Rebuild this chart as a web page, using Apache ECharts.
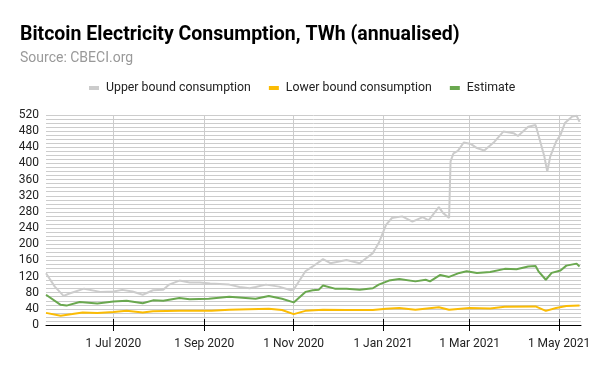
<!DOCTYPE html>
<html>
<head>
<meta charset="utf-8">
<script src="https://cdn.jsdelivr.net/npm/echarts@6/dist/echarts.min.js"></script>
<style>html,body{margin:0;padding:0;background:#fff}#c{width:600px;height:371px}</style>
</head>
<body>
<div id="c"></div>
<script>
const titleText = 'Bitcoin Electricity Consumption, TWh (annualised)';
const subtitleText = 'Source: CBECI.org';
const seriesNames = ['Upper bound consumption', 'Lower bound consumption', 'Estimate'];
const xTickDates = ['2020-07-01', '2020-09-01', '2020-11-01', '2021-01-01', '2021-03-01', '2021-05-01'];
const yTicks = [0, 40, 80, 120, 160, 200, 240, 280, 320, 360, 400, 440, 480, 520];

const upperDates = ['2020-05-16','2020-05-22','2020-05-28','2020-06-01','2020-06-11','2020-06-22','2020-07-01','2020-07-07','2020-07-14','2020-07-21','2020-07-28','2020-08-04','2020-08-08','2020-08-15','2020-08-22','2020-08-29','2020-09-05','2020-09-18','2020-09-25','2020-10-02','2020-10-06','2020-10-13','2020-10-22','2020-10-30','2020-11-01','2020-11-09','2020-11-14','2020-11-21','2020-11-26','2020-12-02','2020-12-07','2020-12-16','2020-12-25','2020-12-29','2021-01-03','2021-01-07','2021-01-14','2021-01-21','2021-01-28','2021-02-01','2021-02-08','2021-02-11','2021-02-15','2021-02-16','2021-02-18','2021-02-21','2021-02-25','2021-03-02','2021-03-06','2021-03-11','2021-03-18','2021-03-24','2021-03-31','2021-04-03','2021-04-10','2021-04-15','2021-04-16','2021-04-21','2021-04-23','2021-04-25','2021-04-29','2021-05-02','2021-05-05','2021-05-10','2021-05-13','2021-05-15'];
const upperValues = [128,95,72,78,90,82,83,87,83,75,86,87,100,110,105,105,103,100,94,91,94,100,95,86,88,133,145,163,153,157,161,153,178,203,248,265,269,256,267,259,292,277,265,405,425,431,452,448,438,432,454,479,475,468,491,495,483,417,380,417,454,471,500,516,518,503];

const lowerDates = ['2020-05-16','2020-05-26','2020-06-03','2020-06-10','2020-06-20','2020-07-01','2020-07-10','2020-07-21','2020-07-28','2020-08-15','2020-08-29','2020-09-06','2020-09-18','2020-10-15','2020-10-24','2020-11-01','2020-11-09','2020-11-21','2020-12-07','2020-12-25','2021-01-03','2021-01-12','2021-01-23','2021-02-08','2021-02-15','2021-03-01','2021-03-15','2021-03-25','2021-04-15','2021-04-22','2021-04-29','2021-05-06','2021-05-15'];
const lowerValues = [30,23,27,31,30,32,35,31,34,35,35,35,38,40,37,27,35,38,37,37,40,42,38,44,38,42,41,45,46,35,42,47,48];

const estimateDates = ['2020-05-16','2020-05-26','2020-05-30','2020-06-08','2020-06-20','2020-07-01','2020-07-10','2020-07-21','2020-07-28','2020-08-04','2020-08-15','2020-08-22','2020-09-04','2020-09-18','2020-10-06','2020-10-15','2020-10-24','2020-11-01','2020-11-09','2020-11-14','2020-11-18','2020-11-21','2020-11-29','2020-12-07','2020-12-16','2020-12-25','2020-12-29','2021-01-05','2021-01-12','2021-01-23','2021-01-30','2021-02-02','2021-02-09','2021-02-15','2021-02-22','2021-02-27','2021-03-06','2021-03-15','2021-03-25','2021-04-02','2021-04-10','2021-04-15','2021-04-17','2021-04-22','2021-04-26','2021-05-02','2021-05-06','2021-05-13','2021-05-15'];
const estimateValues = [75,50,48,57,53,58,60,54,61,60,67,64,65,70,65,72,65,56,82,86,87,98,90,90,87,91,100,110,114,108,112,108,124,119,129,133,129,131,139,138,145,146,133,112,129,135,147,152,145];

const xMin = '2020-05-16';
const xMax = '2021-05-16';

function ts(s) { const p = s.split('-').map(Number); return new Date(p[0], p[1] - 1, p[2]).getTime(); }
function pairs(d, v) { return d.map((x, i) => [ts(x), v[i]]); }
const monthNames = ['Jan','Feb','Mar','Apr','May','Jun','Jul','Aug','Sep','Oct','Nov','Dec'];
function fmtDate(v) { const d = new Date(v); return d.getDate() + ' ' + monthNames[d.getMonth()] + ' ' + d.getFullYear(); }

const chart = echarts.init(document.getElementById('c'), null, { renderer: 'canvas' });
const fontFamily = 'Roboto, sans-serif';
const tickVals = xTickDates.map(ts);
chart.setOption({
  animation: false,
  textStyle: { fontFamily: fontFamily },
  title: [
    { text: titleText, left: 15, top: 20, textStyle: { fontFamily: fontFamily, fontSize: 19.5, fontWeight: 'bold', color: '#000' } },
    { text: subtitleText, left: 15, top: 46, textStyle: { fontFamily: fontFamily, fontSize: 14, fontWeight: 'normal', color: '#999' } }
  ],
  legend: {
    left: 84, top: 77, itemWidth: 10, itemHeight: 4, itemGap: 18, icon: 'rect',
    textStyle: { fontFamily: fontFamily, fontSize: 12.3, color: '#222', padding: [0, 0, 0, 2] },
    data: seriesNames
  },
  grid: { left: 46, right: 19, top: 115, bottom: 46, containLabel: false },
  xAxis: [
    {
      type: 'value', min: ts(xMin), max: ts(xMax), scale: true,
      axisLine: { show: true, onZero: false, lineStyle: { color: '#000', width: 1 } },
      axisTick: { show: true, length: 6, lineStyle: { color: '#000' }, customValues: tickVals },
      axisLabel: { customValues: tickVals, formatter: fmtDate, fontSize: 12, color: '#222', margin: 13 },
      splitLine: { show: true, lineStyle: { color: '#ccc', width: 1 } }
    },
    {
      type: 'value', min: ts(xMin), max: ts(xMax), scale: true, position: 'bottom',
      axisLine: { show: false, onZero: false },
      axisTick: { show: true, inside: true, length: 6, lineStyle: { color: '#000' }, customValues: tickVals },
      axisLabel: { show: false },
      splitLine: { show: false }
    }
  ],
  yAxis: {
    type: 'value', min: 0, max: 520, interval: 10,
    axisLine: { show: false }, axisTick: { show: false },
    axisLabel: { fontSize: 12, color: '#222', margin: 7, formatter: v => (yTicks.indexOf(v) >= 0 ? String(v) : '') },
    splitLine: { show: true, lineStyle: { color: '#ccc', width: 1 } }
  },
  series: [
    { name: seriesNames[0], type: 'line', data: pairs(upperDates, upperValues), showSymbol: false, lineStyle: { width: 2, color: '#cccccc' }, itemStyle: { color: '#cccccc' } },
    { name: seriesNames[1], type: 'line', data: pairs(lowerDates, lowerValues), showSymbol: false, lineStyle: { width: 2, color: '#fbbc04' }, itemStyle: { color: '#fbbc04' } },
    { name: seriesNames[2], type: 'line', data: pairs(estimateDates, estimateValues), showSymbol: false, lineStyle: { width: 2, color: '#6aa84f' }, itemStyle: { color: '#6aa84f' } }
  ]
});
</script>
</body>
</html>
